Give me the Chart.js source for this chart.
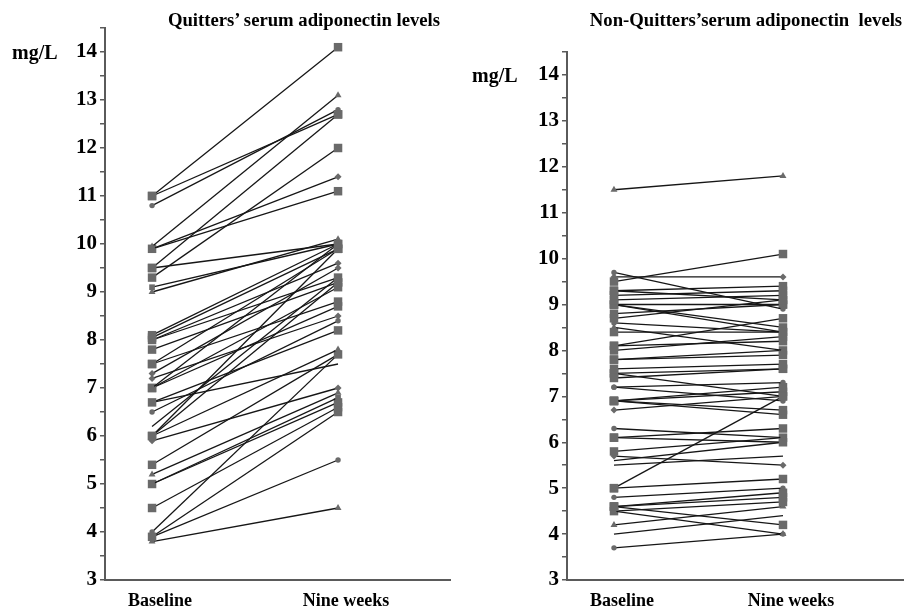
<!DOCTYPE html>
<html>
<head>
<meta charset="utf-8">
<script src="https://cdn.jsdelivr.net/npm/chart.js@4.4.1/dist/chart.umd.min.js"></script>
<style>
  body { margin: 0; background: #fff; }
  #wrap { position: relative; width: 904px; height: 609px; overflow: hidden; font-family: "Liberation Serif", serif; font-weight: bold; }
  canvas { position: absolute; top: 0; }
  .txt { position: absolute; white-space: pre; color: #000; line-height: 1; }
  .title { font-size: 18.7px; transform: translateX(-50%); }
  .unit { font-size: 20px; }
</style>
</head>
<body>
<div id="wrap">
  <canvas id="quitters" width="452" height="609" style="left:0"></canvas>
  <canvas id="nonquitters" width="452" height="609" style="left:452px"></canvas>
  <div class="txt title" style="left:304px; top:11px">Quitters’ serum adiponectin levels</div>
  <div class="txt title" style="left:746px; top:11px">Non-Quitters’serum adiponectin  levels</div>
  <div class="txt unit" style="left:12px; top:42px">mg/L</div>
  <div class="txt unit" style="left:472px; top:65px">mg/L</div>
</div>
<script>
// categorias e marcas do eixo y
const categories = ['Baseline', 'Nine weeks'];
const yTickLabels = ['3', '4', '5', '6', '7', '8', '9', '10', '11', '12', '13', '14'];

// quitters: valor inicial, valor em nove semanas e o marcador de cada pessoa
const quitBaseline = [11.0, 11.0, 10.8, 9.95, 9.9, 9.9, 9.5, 9.3, 9.5, 9.1,
  9.0, 8.1, 8.05, 8.0, 8.0, 7.8, 7.5, 7.5, 7.3, 7.2,
  7.0, 7.0, 7.0, 6.7, 6.7, 6.5, 6.2, 6.0, 6.0, 6.0,
  5.9, 5.4, 5.2, 5.0, 5.0, 4.5, 4.0, 3.9, 3.9, 3.8];
const quitNineWeeks = [14.1, 12.7, 12.8, 13.1, 11.4, 11.1, 12.7, 12.0, 10.0, 10.0,
  10.1, 10.0, 9.9, 9.3, 9.6, 9.2, 9.9, 8.8, 9.5, 8.5,
  10.0, 9.1, 8.7, 8.2, 7.5, 8.4, 9.3, 9.9, 9.2, 7.8,
  7.0, 7.7, 6.9, 6.8, 6.7, 6.6, 7.7, 6.5, 5.5, 4.5];
const quitMarkers = ['square', 'square', 'circle', 'triangle', 'diamond', 'square', 'square', 'square', 'square', 'smallSquare',
  'triangle', 'square', 'square', 'square', 'diamond', 'square', 'square', 'square', 'diamond', 'diamond',
  'circle', 'square', 'square', 'square', 'none', 'circle', 'none', 'square', 'square', 'triangle',
  'diamond', 'square', 'triangle', 'smallSquare', 'square', 'square', 'circle', 'square', 'circle', 'triangle'];

// non-quitters
const nonBaseline = [11.5, 9.7, 9.5, 9.6, 9.3, 9.3, 9.2, 9.1, 9.0, 9.0,
  9.0, 8.8, 8.7, 8.6, 8.5, 8.4, 8.1, 8.1, 8.0, 7.8,
  7.8, 7.6, 7.5, 7.5, 7.4, 7.2, 7.2, 6.9, 6.9, 6.9,
  6.9, 6.7, 6.3, 6.1, 6.1, 5.8, 5.7, 5.6, 5.5, 5.0,
  5.0, 4.8, 4.6, 4.6, 4.5, 4.5, 4.6, 4.2, 4.0, 3.7];
const nonNineWeeks = [11.8, 8.9, 10.1, 9.6, 9.4, 9.1, 9.3, 9.2, 8.4, 9.0,
  8.5, 9.0, 9.1, 8.4, 8.0, 8.4, 8.7, 8.2, 8.3, 7.9,
  8.0, 7.7, 7.6, 7.0, 7.6, 7.3, 6.9, 7.2, 7.1, 6.7,
  6.6, 7.0, 6.1, 6.3, 6.0, 6.1, 5.5, 6.0, 5.7, 7.0,
  5.2, 5.0, 4.9, 4.8, 4.0, 4.7, 4.2, 4.6, 4.4, 4.0];
const nonMarkers = ['triangle', 'circle', 'square', 'diamond', 'square', 'square', 'square', 'square', 'square', 'square',
  'square', 'square', 'square', 'circle', 'triangle', 'square', 'square', 'square', 'square', 'square',
  'square', 'square', 'square', 'square', 'square', 'circle', 'circle', 'square', 'square', 'square',
  'square', 'diamond', 'circle', 'square', 'square', 'square', 'diamond', 'none', 'none', 'square',
  'square', 'circle', 'square', 'square', 'triangle', 'square', 'square', 'triangle', 'none', 'circle'];

// estilo de cada marcador
const markerStyles = {
  square: { pointStyle: 'rect', radius: 6 },
  smallSquare: { pointStyle: 'rect', radius: 4 },
  circle: { pointStyle: 'circle', radius: 2.7 },
  triangle: { pointStyle: 'triangle', radius: 4 },
  diamond: { pointStyle: 'rectRot', radius: 3.5 },
  none: { pointStyle: 'circle', radius: 0 },
};

const markerColor = '#6a6a6a';
const axisColor = '#5a5a5a';
const tickFont = { family: 'Liberation Serif', size: 21, weight: 'bold' };

function buildDatasets(baseline, nineWeeks, markers) {
  return baseline.map((value, i) => {
    const style = markerStyles[markers[i]];
    return {
      data: [{ x: 1, y: value }, { x: 2, y: nineWeeks[i] }],
      borderColor: '#161616',
      borderWidth: 1.3,
      pointStyle: style.pointStyle,
      pointRadius: style.radius,
      pointBackgroundColor: markerColor,
      pointBorderColor: markerColor,
      pointBorderWidth: 0,
    };
  });
}

function makeChart(canvasId, datasets, cfg) {
  return new Chart(document.getElementById(canvasId), {
    type: 'line',
    data: { datasets: datasets },
    options: {
      responsive: false,
      animation: false,
      layout: { autoPadding: false, padding: { top: cfg.top, right: cfg.right, bottom: 0, left: 0 } },
      plugins: { legend: { display: false }, tooltip: { enabled: false } },
      scales: {
        x: {
          type: 'linear',
          min: cfg.xMin,
          max: cfg.xMax,
          afterBuildTicks: (scale) => { scale.ticks = [{ value: 1 }, { value: 2 }]; },
          afterFit: (scale) => {
            scale.height = 29;
            scale.paddingLeft = 0;
            scale.paddingRight = 0;
          },
          grid: { display: false },
          border: { display: true, color: axisColor, width: 2 },
          ticks: {
            callback: (value) => categories[value - 1],
            color: '#000',
            font: { family: 'Liberation Serif', size: 18, weight: 'bold' },
            padding: 3,
            labelOffset: 8,
            maxRotation: 0,
            autoSkip: false,
          },
        },
        y: {
          min: 3,
          max: 14.5,
          afterFit: (scale) => { scale.width = cfg.axisLeft; },
          grid: { drawOnChartArea: false, drawTicks: true, tickLength: 5, color: axisColor, lineWidth: 1.5 },
          border: { display: true, color: axisColor, width: 2 },
          ticks: {
            stepSize: 0.5,
            color: '#000',
            font: tickFont,
            padding: 3,
            autoSkip: false,
            callback: (value) => (yTickLabels.includes(String(value)) ? String(value) : ''),
          },
        },
      },
    },
  });
}

makeChart('quitters', buildDatasets(quitBaseline, quitNineWeeks, quitMarkers),
  { top: 28, right: 2, axisLeft: 105, xMin: 0.747, xMax: 2.602 });
makeChart('nonquitters', buildDatasets(nonBaseline, nonNineWeeks, nonMarkers),
  { top: 52, right: 0, axisLeft: 115, xMin: 0.722, xMax: 2.716 });
</script>
</body>
</html>
